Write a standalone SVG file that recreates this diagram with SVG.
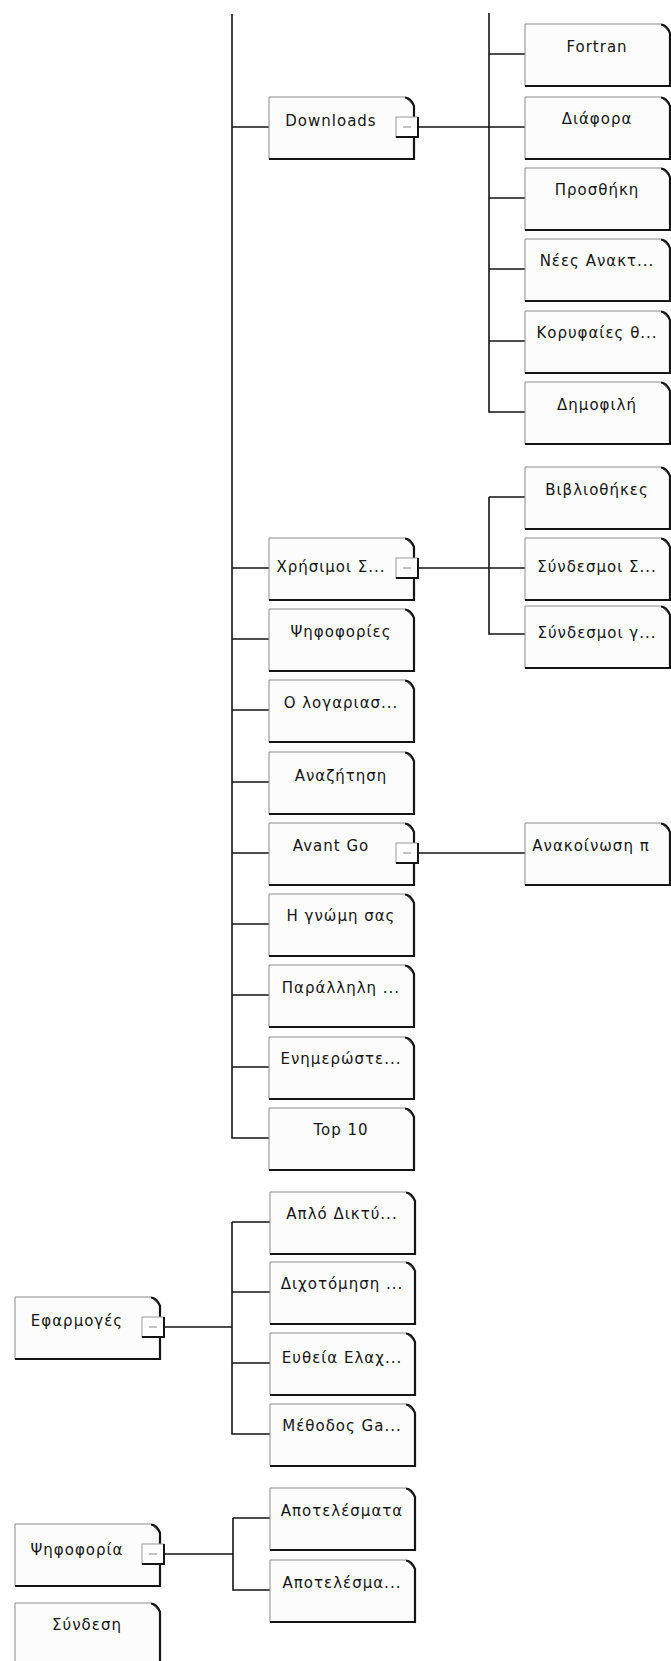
<svg xmlns="http://www.w3.org/2000/svg" xmlns:xlink="http://www.w3.org/1999/xlink" width="671" height="1661" viewBox="0 0 671 1661">
<style>
.bx{fill:#fcfcfc;stroke:#8c8c8c;stroke-width:1}
.be{fill:none;stroke:#151515;stroke-width:2.2}
.t{font-family:"DejaVu Sans","Noto Sans",sans-serif;font-size:15px;letter-spacing:1px;fill:#161616;text-anchor:middle}
.c{fill:none;stroke:#151515;stroke-width:1.6}
.wr{fill:#fff;stroke:#999;stroke-width:1}
.wd{fill:none;stroke:#151515;stroke-width:2}
.wm{fill:none;stroke:#888;stroke-width:1}
</style>
<defs>
<g id="box">
<path class="bx" d="M0,0H136L145,9V62H0Z"/>
<path class="be" d="M136,0.5Q142,1 145,9V62H0"/>
</g>
<g id="wg">
<rect class="wr" x="0" y="0" width="22" height="20"/>
<path class="wd" d="M22,0V20H0"/>
<path class="wm" d="M7,10H15"/>
</g>
</defs>
<rect width="671" height="1661" fill="#fff"/>
<g id="connectors">
<path class="c" d="M232,14V1138H269"/>
<path class="c" d="M232,127H269M232,568H269M232,639H269M232,710H269M232,782H269M232,853H269M232,924H269M232,995H269M232,1067H269"/>
<path class="c" d="M489,13V412H525M489,54H525M418,127H525M489,198H525M489,269H525M489,341H525"/>
<path class="c" d="M489,497V634H525M489,497H525M418,568H525"/>
<path class="c" d="M418,853H525"/>
<path class="c" d="M164,1327H232M232,1222V1434H270M232,1222H270M232,1292H270M232,1363H270"/>
<path class="c" d="M164,1554H233M233,1518V1590H270M233,1518H270"/>
</g>
<g id="n-downloads" transform="translate(269,97)"><use href="#box"/><use href="#wg" x="127" y="20"/><text class="t" x="62" y="29">Downloads</text></g>
<g id="n-xrisimoi" transform="translate(269,538)"><use href="#box"/><use href="#wg" x="127" y="20"/><text class="t" x="62" y="34">Χρήσιμοι Σ...</text></g>
<g id="n-psifoforiess" transform="translate(269,609)"><use href="#box"/><text class="t" x="72" y="28">Ψηφοφορίες</text></g>
<g id="n-logariasmos" transform="translate(269,680)"><use href="#box"/><text class="t" x="72" y="28">Ο λογαριασ...</text></g>
<g id="n-anazitisi" transform="translate(269,752)"><use href="#box"/><text class="t" x="72" y="29">Αναζήτηση</text></g>
<g id="n-avantgo" transform="translate(269,823)"><use href="#box"/><use href="#wg" x="127" y="20"/><text class="t" x="62" y="28">Avant Go</text></g>
<g id="n-gnomi" transform="translate(269,894)"><use href="#box"/><text class="t" x="72" y="27">Η γνώμη σας</text></g>
<g id="n-parallili" transform="translate(269,965)"><use href="#box"/><text class="t" x="72" y="28">Παράλληλη ...</text></g>
<g id="n-enimerwste" transform="translate(269,1037)"><use href="#box"/><text class="t" x="72" y="27">Ενημερώστε...</text></g>
<g id="n-top10" transform="translate(269,1108)"><use href="#box"/><text class="t" x="72" y="27">Top 10</text></g>
<g id="n-fortran" transform="translate(525,24)"><use href="#box"/><text class="t" x="72" y="28">Fortran</text></g>
<g id="n-diafora" transform="translate(525,97)"><use href="#box"/><text class="t" x="72" y="27">Διάφορα</text></g>
<g id="n-prosthiki" transform="translate(525,168)"><use href="#box"/><text class="t" x="72" y="27">Προσθήκη</text></g>
<g id="n-nees" transform="translate(525,239)"><use href="#box"/><text class="t" x="72" y="27">Νέες Ανακτ...</text></g>
<g id="n-koryfaies" transform="translate(525,311)"><use href="#box"/><text class="t" x="72" y="27">Κορυφαίες θ...</text></g>
<g id="n-dimofili" transform="translate(525,382)"><use href="#box"/><text class="t" x="72" y="28">Δημοφιλή</text></g>
<g id="n-vivliothikes" transform="translate(525,467)"><use href="#box"/><text class="t" x="72" y="28">Βιβλιοθήκες</text></g>
<g id="n-syndesmoi-s" transform="translate(525,538)"><use href="#box"/><text class="t" x="72" y="34">Σύνδεσμοι Σ...</text></g>
<g id="n-syndesmoi-g" transform="translate(525,606)"><use href="#box"/><text class="t" x="72" y="32">Σύνδεσμοι γ...</text></g>
<g id="n-anakoinwsi" transform="translate(525,823)"><use href="#box"/><text class="t" x="66" y="28">Ανακοίνωση π</text></g>
<g id="n-efarmoges" transform="translate(15,1297)"><use href="#box"/><use href="#wg" x="127" y="20"/><text class="t" x="62" y="29">Εφαρμογές</text></g>
<g id="n-aplo" transform="translate(270,1192)"><use href="#box"/><text class="t" x="72" y="27">Απλό Δικτύ...</text></g>
<g id="n-dixotomisi" transform="translate(270,1262)"><use href="#box"/><text class="t" x="72" y="27">Διχοτόμηση ...</text></g>
<g id="n-eutheia" transform="translate(270,1333)"><use href="#box"/><text class="t" x="72" y="30">Ευθεία Ελαχ...</text></g>
<g id="n-methodos" transform="translate(270,1404)"><use href="#box"/><text class="t" x="72" y="27">Μέθοδος Ga...</text></g>
<g id="n-psifoforia" transform="translate(15,1524)"><use href="#box"/><use href="#wg" x="127" y="20"/><text class="t" x="62" y="31">Ψηφοφορία</text></g>
<g id="n-apotelesmata" transform="translate(270,1488)"><use href="#box"/><text class="t" x="72" y="28">Αποτελέσματα</text></g>
<g id="n-apotelesma2" transform="translate(270,1560)"><use href="#box"/><text class="t" x="72" y="28">Αποτελέσμα...</text></g>
<g id="n-syndesi" transform="translate(15,1603)"><use href="#box"/><text class="t" x="72" y="27">Σύνδεση</text></g>
</svg>
